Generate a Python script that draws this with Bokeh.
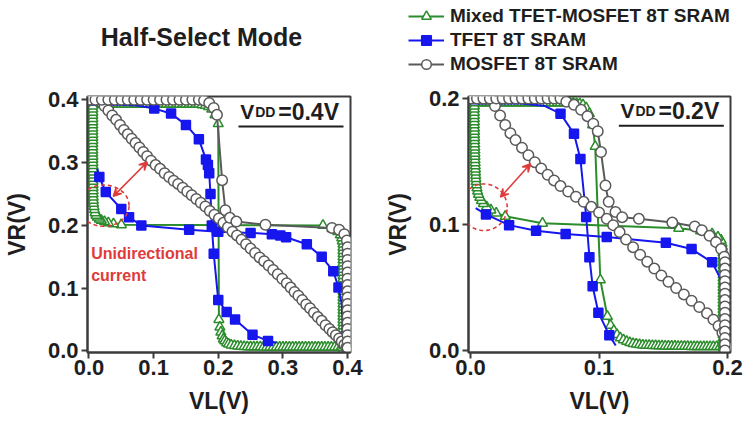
import numpy as np
from bokeh.plotting import figure
from bokeh.layouts import row, column
from bokeh.models import (FixedTicker, PrintfTickFormatter, Label, Legend, LegendItem,
                          Arrow, VeeHead, PolyAnnotation, Range1d)
from bokeh.embed import file_html
from bokeh.resources import INLINE

FONT = "Liberation Sans"
INK = "#1e1e1e"
FRAME = "#3c3c3c"
GREEN = "#2b8c2b"
BLUE = "#1616ee"
GRAY = "#5a5a5a"
RED = "#de3b3b"

series_names = ["Mixed TFET-MOSFET 8T SRAM", "TFET 8T SRAM", "MOSFET 8T SRAM"]

# ------------------------------------------------------------------ VDD = 0.4 V
ticks_04 = [0.0, 0.1, 0.2, 0.3, 0.4]

# mixed TFET-MOSFET cell: one VTC (VL -> VR); the butterfly adds its mirror
mixed04_vl = [0.000, 0.005, 0.010, 0.015, 0.020, 0.025, 0.030, 0.035, 0.040, 0.045,
              0.050, 0.055, 0.060, 0.065, 0.070, 0.075, 0.080, 0.085, 0.090, 0.095,
              0.100, 0.105, 0.110, 0.115, 0.120, 0.125, 0.130, 0.135, 0.140, 0.145,
              0.150, 0.155, 0.160, 0.165, 0.170, 0.175, 0.180,
              0.185, 0.190, 0.195, 0.200, 0.201, 0.2025, 0.204, 0.206, 0.208, 0.210,
              0.213, 0.216, 0.220, 0.225, 0.230, 0.235, 0.240,
              0.245, 0.250, 0.255, 0.260, 0.265, 0.270, 0.275, 0.280, 0.285, 0.290,
              0.295, 0.300, 0.305, 0.310, 0.315, 0.320, 0.325, 0.330, 0.335, 0.340,
              0.345, 0.350, 0.355, 0.360, 0.365, 0.370, 0.375, 0.380, 0.385, 0.390]
mixed04_vr = [0.393, 0.393, 0.393, 0.393, 0.393, 0.393, 0.393, 0.393, 0.393, 0.393,
              0.393, 0.393, 0.393, 0.393, 0.393, 0.393, 0.393, 0.393, 0.393, 0.393,
              0.393, 0.393, 0.393, 0.393, 0.393, 0.393, 0.393, 0.393, 0.393, 0.393,
              0.393, 0.393, 0.393, 0.393, 0.393, 0.392, 0.391,
              0.389, 0.385, 0.376, 0.362, 0.050, 0.038, 0.030, 0.024, 0.019, 0.016,
              0.013, 0.011, 0.0095, 0.0085, 0.0078, 0.0072, 0.0068,
              0.0066, 0.0065, 0.0065, 0.0064, 0.0064, 0.0063, 0.0063, 0.0063, 0.0062, 0.0062,
              0.0062, 0.0061, 0.0061, 0.0061, 0.0060, 0.0060, 0.0060, 0.0060, 0.0060, 0.0060,
              0.0060, 0.0060, 0.0060, 0.0060, 0.0060, 0.0060, 0.0060, 0.0060, 0.0060, 0.0060]

# TFET cell VTC
tfet04_vl = [0.000, 0.050, 0.075, 0.101, 0.127, 0.150, 0.170, 0.181, 0.184, 0.186,
             0.188, 0.190, 0.193, 0.200, 0.213, 0.226, 0.253, 0.277, 0.290]
tfet04_vr = [0.392, 0.392, 0.391, 0.386, 0.378, 0.360, 0.337, 0.305, 0.296, 0.283,
             0.250, 0.200, 0.155, 0.081, 0.062, 0.050, 0.026, 0.016, 0.013]

# MOSFET cell: gradual (weak) curve
mos04a_vl = [0.000, 0.008, 0.018, 0.024, 0.030, 0.036, 0.042, 0.048, 0.054, 0.060,
             0.066, 0.072, 0.078, 0.084, 0.090, 0.096, 0.103, 0.110, 0.117, 0.124,
             0.131, 0.138, 0.145, 0.152, 0.159, 0.166, 0.173, 0.180, 0.187, 0.194,
             0.201, 0.208, 0.215, 0.222, 0.229, 0.236, 0.243, 0.250, 0.257, 0.264,
             0.271, 0.278, 0.285, 0.292, 0.299, 0.306, 0.312, 0.318, 0.324, 0.330,
             0.336, 0.342, 0.348, 0.354, 0.360, 0.366, 0.372, 0.377, 0.382, 0.387,
             0.391, 0.395, 0.398, 0.400]
mos04a_vr = [0.400, 0.400, 0.397, 0.390, 0.383, 0.375, 0.368, 0.360, 0.352, 0.345,
             0.338, 0.331, 0.324, 0.317, 0.310, 0.303, 0.296, 0.290, 0.283, 0.277,
             0.271, 0.266, 0.260, 0.254, 0.248, 0.242, 0.236, 0.230, 0.223, 0.217,
             0.211, 0.204, 0.197, 0.190, 0.184, 0.177, 0.170, 0.163, 0.156, 0.149,
             0.143, 0.136, 0.129, 0.122, 0.115, 0.108, 0.101, 0.094, 0.088, 0.081,
             0.074, 0.068, 0.061, 0.054, 0.048, 0.041, 0.035, 0.030, 0.025, 0.020,
             0.015, 0.010, 0.005, 0.000]
# MOSFET cell: sharp curve
mos04b_vl = [0.00, 0.01, 0.02, 0.03, 0.04, 0.05, 0.06, 0.07, 0.08, 0.09,
             0.10, 0.11, 0.12, 0.13, 0.14, 0.15, 0.16, 0.17,
             0.178, 0.186, 0.193, 0.198, 0.206, 0.211, 0.218, 0.228, 0.273, 0.376,
             0.387, 0.395, 0.399, 0.400,
             0.400, 0.400, 0.400, 0.400, 0.400, 0.400, 0.400, 0.400, 0.400, 0.400,
             0.400, 0.400, 0.400, 0.400, 0.400, 0.400]
mos04b_vr = [0.400, 0.400, 0.400, 0.400, 0.400, 0.400, 0.400, 0.400, 0.400, 0.400,
             0.400, 0.400, 0.400, 0.400, 0.400, 0.400, 0.400, 0.400,
             0.399, 0.395, 0.387, 0.376, 0.272, 0.224, 0.212, 0.206, 0.201, 0.196,
             0.193, 0.186, 0.176, 0.165,
             0.155, 0.145, 0.135, 0.125, 0.115, 0.105, 0.095, 0.085, 0.075, 0.065,
             0.055, 0.045, 0.035, 0.025, 0.015, 0.005]

# ------------------------------------------------------------------ VDD = 0.2 V
ticks_02 = [0.0, 0.1, 0.2]

mixed02_vl = [0.0000, 0.0025, 0.0050, 0.0075, 0.0100, 0.0125, 0.0150, 0.0175, 0.0200, 0.0225,
              0.0250, 0.0275, 0.0300, 0.0325, 0.0350, 0.0375, 0.0400, 0.0425, 0.0450, 0.0475,
              0.0500, 0.0525, 0.0550, 0.0575, 0.0600, 0.0625, 0.0650, 0.0675, 0.0700, 0.0725,
              0.0750, 0.0775, 0.0800, 0.0825, 0.0850,
              0.0875, 0.0900, 0.0925, 0.0950, 0.0970, 0.1010, 0.1065, 0.1090, 0.1115, 0.1140,
              0.1165, 0.1190, 0.1215, 0.1240, 0.1265, 0.1290,
              0.1315, 0.1340, 0.1365, 0.1390, 0.1415, 0.1440, 0.1465, 0.1490, 0.1515, 0.1540,
              0.1565, 0.1590, 0.1615, 0.1640, 0.1665, 0.1690, 0.1715, 0.1740, 0.1765, 0.1790,
              0.1815, 0.1840, 0.1865, 0.1890, 0.1915, 0.1940, 0.1965]
mixed02_vr = [0.1965, 0.1965, 0.1965, 0.1965, 0.1965, 0.1965, 0.1965, 0.1965, 0.1965, 0.1965,
              0.1965, 0.1965, 0.1965, 0.1965, 0.1965, 0.1965, 0.1965, 0.1965, 0.1965, 0.1965,
              0.1965, 0.1965, 0.1965, 0.1965, 0.1965, 0.1965, 0.1965, 0.1965, 0.1965, 0.1965,
              0.1965, 0.1965, 0.1963, 0.1960, 0.1957,
              0.1950, 0.1925, 0.1880, 0.1790, 0.1620, 0.0560, 0.0270, 0.0200, 0.0158, 0.0125,
              0.0100, 0.0085, 0.0072, 0.0062, 0.0055, 0.0050,
              0.0046, 0.0043, 0.0041, 0.0040, 0.0039, 0.0038, 0.0037, 0.0036, 0.0035, 0.0035,
              0.0034, 0.0034, 0.0033, 0.0033, 0.0032, 0.0032, 0.0031, 0.0031, 0.0031, 0.0030,
              0.0030, 0.0030, 0.0030, 0.0030, 0.0030, 0.0030, 0.0030]

tfet02_vl = [0.000, 0.040, 0.058, 0.070, 0.0805, 0.0855, 0.0900, 0.0925, 0.0950, 0.0995,
             0.1080, 0.1130]
tfet02_vr = [0.196, 0.196, 0.194, 0.188, 0.172, 0.152, 0.106, 0.074, 0.051, 0.030,
             0.012, 0.004]

mos02a_vl = [0.000, 0.008, 0.015, 0.019, 0.023, 0.027, 0.031, 0.035, 0.040, 0.045,
             0.050, 0.055, 0.060, 0.065, 0.070, 0.076, 0.082, 0.088, 0.094, 0.100,
             0.106, 0.111, 0.116, 0.121, 0.1265, 0.132, 0.1375, 0.143, 0.1485, 0.154,
             0.160, 0.166, 0.172, 0.178, 0.184, 0.189, 0.193, 0.196, 0.198, 0.1995]
mos02a_vr = [0.2000, 0.2000, 0.1995, 0.1940, 0.1865, 0.1790, 0.1725, 0.1670, 0.1610, 0.1550,
             0.1495, 0.1445, 0.1395, 0.1350, 0.1305, 0.1262, 0.1220, 0.1180, 0.1140, 0.1095,
             0.1045, 0.0995, 0.0940, 0.0880, 0.0820, 0.0760, 0.0705, 0.0650, 0.0595, 0.0545,
             0.0495, 0.0445, 0.0395, 0.0345, 0.0295, 0.0245, 0.0195, 0.0140, 0.0085, 0.0030]

mos02b_vl = [0.000, 0.005, 0.010, 0.015, 0.020, 0.025, 0.030, 0.035, 0.040, 0.045,
             0.050, 0.055, 0.060, 0.065, 0.070,
             0.0745, 0.0805, 0.0860, 0.0910, 0.0955, 0.0990, 0.1015, 0.1050, 0.1075, 0.1128,
             0.1180, 0.1310, 0.1570, 0.1745, 0.1800, 0.1860, 0.1910, 0.1950, 0.1975,
             0.198, 0.198, 0.198, 0.198, 0.198, 0.198, 0.198, 0.198, 0.198, 0.198,
             0.198, 0.198, 0.198, 0.198, 0.198]
mos02b_vr = [0.200, 0.200, 0.200, 0.200, 0.200, 0.200, 0.200, 0.200, 0.200, 0.200,
             0.200, 0.200, 0.200, 0.200, 0.200,
             0.1975, 0.1950, 0.1910, 0.1860, 0.1800, 0.1740, 0.1575, 0.1310, 0.1180, 0.1100,
             0.1058, 0.1045, 0.1015, 0.0985, 0.0955, 0.0910, 0.0860, 0.0805, 0.0745,
             0.070, 0.065, 0.060, 0.055, 0.050, 0.045, 0.040, 0.035, 0.030, 0.025,
             0.020, 0.015, 0.010, 0.005, 0.000]

HEADER_H = 80

# marker style of each series: (colour, marker, fill, size)
STYLE = {
    "mixed": (GREEN, "triangle", "white", 10),
    "tfet": (BLUE, "square", BLUE, 9),
    "mos": (GRAY, "circle", "white", 10.5),
}


def make_header(width):
    # strip above the panels holding the title and the legend, in pixel units
    h = figure(width=width, height=HEADER_H, x_range=Range1d(0, width),
               y_range=Range1d(0, HEADER_H), output_backend="svg",
               toolbar_location=None, title=None,
               x_axis_location=None, y_axis_location=None, min_border=0)
    h.xgrid.visible = False
    h.ygrid.visible = False
    h.outline_line_color = None
    h.background_fill_color = "white"
    h.border_fill_color = "white"
    return h


def make_panel(borders, xr, yr, ticks):
    left, right, top, bottom = borders
    p = figure(width=378, height=425 - HEADER_H, x_range=Range1d(*xr), y_range=Range1d(*yr),
               output_backend="svg", toolbar_location=None, title=None,
               min_border_left=left, min_border_right=right,
               min_border_top=top, min_border_bottom=bottom)
    p.xgrid.visible = False
    p.ygrid.visible = False
    p.background_fill_color = "white"
    p.border_fill_color = "white"
    p.outline_line_color = FRAME
    p.outline_line_width = 2
    p.outline_line_alpha = 1
    for ax in (p.xaxis[0], p.yaxis[0]):
        ax.ticker = FixedTicker(ticks=ticks, minor_ticks=[])
        ax.formatter = PrintfTickFormatter(format="%.1f")
        ax.axis_line_color = FRAME
        ax.axis_line_width = 2
        ax.major_tick_line_color = FRAME
        ax.major_tick_line_width = 2
        ax.major_tick_in = 0
        ax.major_tick_out = 6
        ax.minor_tick_line_color = None
        ax.major_label_text_font = FONT
        ax.major_label_text_font_size = "22px"
        ax.major_label_text_font_style = "bold"
        ax.major_label_text_color = INK
        ax.axis_label_text_font = FONT
        ax.axis_label_text_font_size = "23px"
        ax.axis_label_text_font_style = "bold"
        ax.axis_label_text_color = INK
    p.xaxis.axis_label = "VL(V)"
    p.yaxis.axis_label = "VR(V)"
    p.xaxis.major_label_standoff = 1
    p.yaxis.major_label_standoff = 3
    p.xaxis.axis_label_standoff = 10
    p.yaxis.axis_label_standoff = 15
    return p


def curve(p, xs, ys, style, marks=slice(None)):
    color, marker, fill, size = STYLE[style]
    ln = p.line(xs, ys, line_color=color, line_width=2)
    sc = p.scatter(xs[marks], ys[marks], marker=marker, size=size,
                   line_color=color, fill_color=fill, line_width=1.5)
    return [ln, sc]


def butterfly(p, vl, vr, style, marks=slice(None)):
    # the VTC and its mirror image across VL = VR
    curve(p, vl, vr, style, marks)
    curve(p, vr, vl, style, marks)


def dashed_ring(p, cx, cy, rx, ry):
    t = np.linspace(0, 2 * np.pi, 96)
    p.add_layout(PolyAnnotation(xs=list(cx + rx * np.cos(t)), ys=list(cy + ry * np.sin(t)),
                                fill_alpha=0, line_color=RED, line_alpha=1,
                                line_width=1.6, line_dash="4 3"))


def double_arrow(p, x0, y0, x1, y1):
    head = dict(size=8, line_color=RED, fill_color=RED, line_width=1.5)
    p.add_layout(Arrow(start=VeeHead(**head), end=VeeHead(**head),
                       x_start=x0, y_start=y0, x_end=x1, y_end=y1,
                       line_color=RED, line_width=1.6))


def vdd_label(p, x, y, supply, ux0, ux1, uy):
    common = dict(text_font=FONT, text_font_style="bold", text_color=INK,
                  text_baseline="alphabetic", text_align="left")
    p.add_layout(Label(x=x, y=y, text="V", text_font_size="21px", **common))
    p.add_layout(Label(x=x, y=y, text="DD", text_font_size="14px", x_offset=15, **common))
    p.add_layout(Label(x=x, y=y, text=f"={supply}V", text_font_size="23px", x_offset=38, **common))
    p.add_layout(Arrow(start=None, end=None, x_start=ux0, y_start=uy, x_end=ux1, y_end=uy,
                       line_color=INK, line_width=2))


# ---------------------------------------------------------------- left panel
pl = make_panel((87, 28, 95 - HEADER_H, 72), (-0.0023, 0.4046), (-0.0024, 0.4052), ticks_04)
butterfly(pl, np.array(mixed04_vl), np.array(mixed04_vr), "mixed")
butterfly(pl, np.array(tfet04_vl), np.array(tfet04_vr), "tfet", slice(3, -1))
curve(pl, np.array(mos04a_vl), np.array(mos04a_vr), "mos")
curve(pl, np.array(mos04b_vl), np.array(mos04b_vr), "mos")

dashed_ring(pl, 0.0229, 0.2314, 0.0391, 0.0329)
double_arrow(pl, 0.0375, 0.2462, 0.0901, 0.3010)
vdd_label(pl, 0.234, 0.3810, 0.4, 0.2313, 0.3938, 0.3573)

red_text = dict(text_font=FONT, text_font_style="bold", text_color=RED,
                text_font_size="16px", text_baseline="alphabetic")
pl.add_layout(Label(x=0.0034, y=0.1556, text="Unidirectional", **red_text))
pl.add_layout(Label(x=0.0034, y=0.1209, text="current", **red_text))

# ---------------------------------------------------------------- right panel
pr = make_panel((90, 26, 96 - HEADER_H, 73), (-0.0016, 0.2023), (-0.0016, 0.2016), ticks_02)
butterfly(pr, np.array(mixed02_vl), np.array(mixed02_vr), "mixed")
butterfly(pr, np.array(tfet02_vl), np.array(tfet02_vr), "tfet", slice(3, -1))
curve(pr, np.array(mos02a_vl), np.array(mos02a_vr), "mos")
curve(pr, np.array(mos02b_vl), np.array(mos02b_vr), "mos")

dashed_ring(pr, 0.0104, 0.1137, 0.0181, 0.0185)
double_arrow(pr, 0.0233, 0.1217, 0.0467, 0.1482)
vdd_label(pr, 0.1167, 0.1903, 0.2, 0.1154, 0.1971, 0.1783)

# ---------------------------------------------------------------- header strip
hl = make_header(378)
hl.add_layout(Label(x=201, y=HEADER_H - 36.7, text="Half-Select Mode", text_font=FONT,
                    text_font_style="bold", text_font_size="25px", text_color=INK,
                    text_align="center", text_baseline="alphabetic"))

# legend swatches: hidden copies of the 0.2 V curves, used only as legend keys
hr = make_header(378)
swatches = []
for style, (vl, vr) in (("mixed", (mixed02_vl, mixed02_vr)),
                        ("tfet", (tfet02_vl, tfet02_vr)),
                        ("mos", (mos02a_vl, mos02a_vr))):
    rs = curve(hr, np.array(vl), np.array(vr), style)
    for r in rs:
        r.visible = False
    swatches.append(rs)

legend = Legend(items=[LegendItem(label=name, renderers=rs)
                       for name, rs in zip(series_names, swatches)],
                location=(30, 4), orientation="vertical",
                label_text_font=FONT, label_text_font_style="bold",
                label_text_font_size="19px", label_text_color=INK,
                glyph_width=36, glyph_height=24, label_height=22, label_standoff=6,
                spacing=0, padding=0, margin=0, inactive_fill_alpha=0,
                background_fill_alpha=0, border_line_alpha=0)
hr.add_layout(legend)

layout = column(row(hl, hr), row(pl, pr))
open("out.html", "w").write(file_html(layout, INLINE))
